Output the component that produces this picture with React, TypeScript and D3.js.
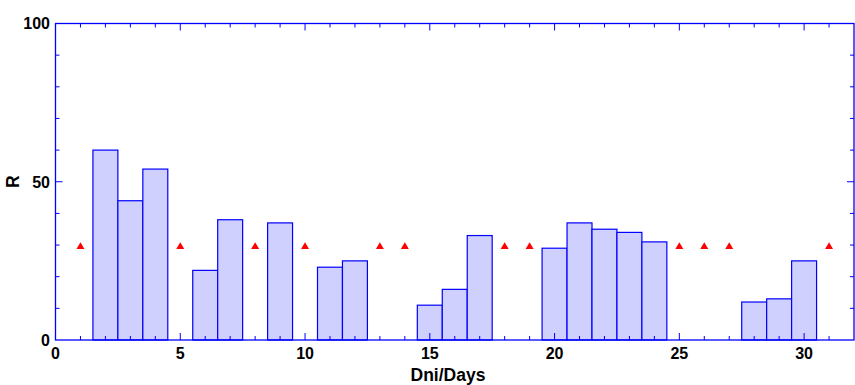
import React from "react";
import * as d3 from "d3";

const barDays = [2, 3, 4, 6, 7, 9, 11, 12, 15, 16, 17, 20, 21, 22, 23, 24, 28, 29, 30];
const barValues = [60, 44, 54, 22, 38, 37, 23, 25, 11, 16, 33, 29, 37, 35, 34, 31, 12, 13, 25];
const markerDays = [1, 5, 8, 10, 13, 14, 18, 19, 25, 26, 27, 31];
const markerValue = 30;
const xMajorTicks = [0, 5, 10, 15, 20, 25, 30];
const yMajorTicks = [0, 50, 100];

const W = 855, H = 385;
const L = 55.5, R = 854, T = 23.5, B = 340;

export default function App() {
  const x = d3.scaleLinear().domain([0, 32]).range([L, R]);
  const y = d3.scaleLinear().domain([0, 100]).range([B, T]);
  const xMinor = d3.range(1, 32);
  const yMinor = d3.range(10, 100, 10);
  const tri = d3.line()([[-4, 3.3], [0, -3.3], [4, 3.3]]) + "Z";
  const blue = "#0000ff";
  return (
    <svg width={W} height={H} style={{ position: "absolute", left: 0, top: 0 }}>
      <rect x={0} y={0} width={W} height={H} fill="#fff" />
      {barDays.map((d, i) => (
        <rect key={d} x={x(d - 0.5)} y={y(barValues[i])} width={x(d + 0.5) - x(d - 0.5)}
          height={y(0) - y(barValues[i])} fill="#d0d0ff" stroke={blue} strokeWidth={1.2} />
      ))}
      {markerDays.map((d) => (
        <path key={d} d={tri} transform={`translate(${x(d)},${y(markerValue) + 0.6})`} fill="#ff0000" />
      ))}
      {xMinor.map((t) => {
        const len = t % 5 === 0 ? 7 : 4;
        return (
          <g key={t}>
            <line x1={x(t)} x2={x(t)} y1={B} y2={B - len} stroke={blue} />
            <line x1={x(t)} x2={x(t)} y1={T} y2={T + len} stroke={blue} />
          </g>
        );
      })}
      {yMinor.map((t) => {
        const len = t % 50 === 0 ? 7 : 4;
        return (
          <g key={t}>
            <line x1={L} x2={L + len} y1={y(t)} y2={y(t)} stroke={blue} />
            <line x1={R} x2={R - len} y1={y(t)} y2={y(t)} stroke={blue} />
          </g>
        );
      })}
      <rect x={L} y={T} width={R - L} height={B - T} fill="none" stroke={blue} strokeWidth={1.3} />
      <g fontFamily="Liberation Sans, Arial, sans-serif" fontWeight="bold" fill="#000">
        {xMajorTicks.map((t) => (
          <text key={t} x={x(t)} y={358.5} textAnchor="middle" fontSize={16}>{t}</text>
        ))}
        {yMajorTicks.map((t) => (
          <text key={t} x={50} y={y(t) + 5.8} textAnchor="end" fontSize={16}>{t}</text>
        ))}
        <text x={448} y={380.5} textAnchor="middle" fontSize={17.5}>Dni/Days</text>
        <text transform={`translate(18.5,${y(50)}) rotate(-90)`} textAnchor="middle" fontSize={17.5}>R</text>
      </g>
    </svg>
  );
}
